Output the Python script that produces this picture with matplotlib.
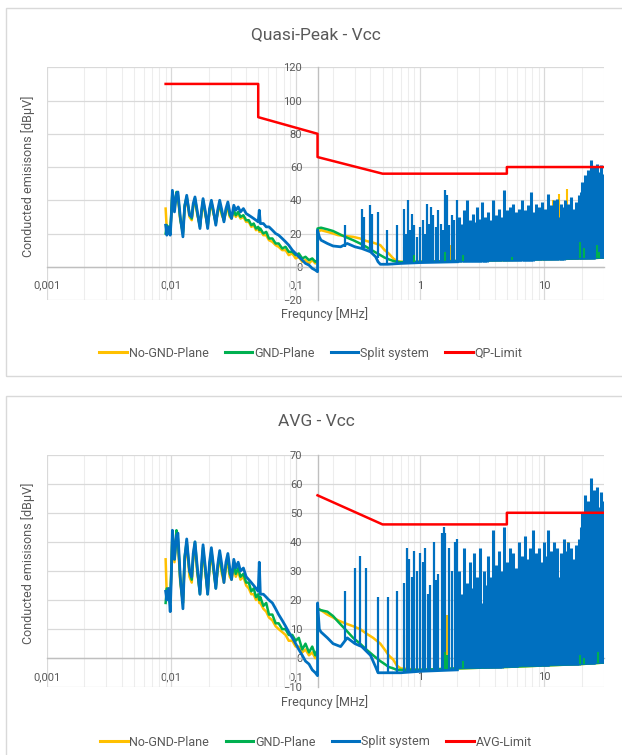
import numpy as np
import matplotlib.pyplot as plt
from matplotlib.patches import Rectangle

plt.rcParams['font.family'] = ['Roboto', 'DejaVu Sans']

C_NO = '#FFC000'
C_GND = '#00B050'
C_SPLIT = '#0070C0'
C_LIM = '#FF0000'
TXT = '#595959'

# ---------- shared frequency lists (MHz) ----------
lf_f = [0.0090, 0.0092, 0.0095, 0.0098, 0.0100, 0.0102, 0.0106, 0.0110, 0.0113, 0.0118,
        0.0124, 0.0128, 0.0133, 0.0140, 0.0146, 0.0150, 0.0155, 0.0162, 0.0170, 0.0175,
        0.0180, 0.0188, 0.0196, 0.0203, 0.0210, 0.0218, 0.0228, 0.0236, 0.0245, 0.0255,
        0.0265, 0.0275, 0.0285, 0.0295, 0.0305, 0.0318, 0.0330, 0.0345, 0.0360, 0.0380,
        0.0400, 0.0420, 0.0440, 0.0460, 0.0480, 0.0500, 0.0510, 0.0520, 0.0550, 0.0580,
        0.0610, 0.0650, 0.0690, 0.0730, 0.0780, 0.0830, 0.0880, 0.0940, 0.1000, 0.1060,
        0.1130, 0.1200, 0.1280, 0.1360, 0.1440, 0.1500]
mhf_f = [0.15, 0.16, 0.18, 0.2, 0.22, 0.25, 0.29, 0.33, 0.37, 0.42, 0.48,
         0.52, 0.56, 0.61, 0.65, 0.7, 1, 2, 5, 10, 20, 30]
bm_f = [0.15, 0.1501, 0.155, 0.16, 0.18, 0.2, 0.23, 0.26, 0.3, 0.34, 0.4,
        0.44, 0.46, 0.48, 0.55, 0.7, 1, 2]

# ---------- Quasi-Peak ----------
qp_lim_f = [0.009, 0.05, 0.05, 0.15, 0.15, 0.5, 5, 5, 30]
qp_lim_db = [110, 110, 90, 80, 66, 56, 56, 60, 60]

qp_no_lf = [35, 22, 24, 21, 32, 44, 35, 43, 42, 28,
            21, 35, 41, 30, 28, 36, 40, 31, 25, 32,
            39, 31, 25, 33, 38, 32, 27, 32, 37, 31,
            28, 33, 35, 30, 29, 33, 30, 32, 29, 30,
            27, 27, 24, 25, 22, 23, 21, 22, 19, 19,
            16, 15, 13, 12, 10, 10, 7, 8, 5, 6,
            3, 4, 2, 4, 2, 3]
qp_gnd_lf = [20, 25, 23, 20, 33, 45, 36, 45, 43, 29,
             20, 37, 42, 32, 29, 37, 41, 32, 24, 33,
             40, 32, 24, 34, 39, 33, 26, 33, 38, 32,
             28, 34, 37, 31, 30, 34, 31, 33, 30, 31,
             28, 28, 25, 26, 23, 24, 22, 23, 20, 21,
             17, 17, 14, 14, 11, 12, 9, 9, 7, 8,
             5, 6, 4, 5, 3, 4]
qp_split_lf = [25, 19, 24, 19, 30, 46, 33, 44, 45, 30,
               18, 36, 43, 31, 30, 38, 42, 33, 23, 34,
               41, 33, 23, 35, 40, 34, 25, 34, 40, 34,
               27, 35, 39, 33, 29, 37, 34, 36, 33, 35,
               32, 31, 30, 29, 28, 27, 34, 26, 26, 24,
               24, 22, 20, 19, 17, 15, 13, 10, 8, 6,
               4, 2, 1, -1, -2, -3]
qp_no_mhf = [21, 22, 21, 20, 19, 18.5, 18, 17, 15.5, 14.5, 13,
             10, 8, 5, 3.5, 3, 3, 3.5, 4, 4.5, 5, 5.5]
qp_gnd_mhf = [23, 23.5, 22.5, 21.5, 20, 18, 16, 14, 12, 9.5, 7,
              5.5, 4.5, 3.5, 3, 2.8, 3, 3.5, 4, 4.5, 5, 5.5]
qp_split_bm = [-3, 22, 18, 16, 14, 12.5, 12, 14, 12, 11, 9,
               6, 3, 1.5, 1.5, 2, 2.5, 3]

qp_split_spk_f = [0.25, 0.34, 0.355, 0.40, 0.415, 0.457, 0.54, 0.65, 0.745, 0.77,
                  0.795, 0.83, 0.86, 0.9, 0.94, 1.0, 1.05, 1.1, 1.13, 1.18,
                  1.22, 1.28, 1.34, 1.4, 1.47, 1.52, 1.6, 1.65, 1.72, 1.8,
                  1.88, 1.97]
qp_split_spk_lo = [12, 11, 11, 9, 9, 5, 1.5, 1.8, 2, 2,
                   2, 2.2, 2.2, 2.3, 2.4, 2.5, 2.5, 2.6, 2.6, 2.7,
                   2.7, 2.8, 2.8, 2.8, 2.9, 2.9, 2.9, 3, 3, 3,
                   3, 3]
qp_split_spk_hi = [25, 35, 30, 37, 32, 33, 22, 25, 35, 20,
                   40, 22, 32, 25, 18, 24, 28, 20, 38, 26,
                   36, 31, 24, 34, 26, 22, 46, 43, 25, 31,
                   28, 40]
# dense sweep 2..30 MHz, peak of each sample
qp_split_dense = [22, 30, 20, 26, 34, 21, 40, 24, 28, 23,
                  32, 22, 27, 36, 24, 29, 39, 23, 30, 26,
                  33, 25, 28, 40, 26, 31, 24, 35, 27, 30,
                  46, 28, 34, 26, 36, 29, 38, 27, 33, 30,
                  35, 28, 40, 30, 34, 27, 37, 31, 45, 29,
                  33, 38, 30, 36, 28, 39, 32, 35, 30, 44,
                  31, 37, 29, 40, 33, 41, 30, 38, 34, 36,
                  40, 32, 38, 30, 42, 35, 33, 39, 36, 43,
                  45, 51, 48, 55, 50, 58, 52, 64, 55, 60,
                  53, 62, 57, 61, 52, 56]
qp_split_floor = [3, 3.1, 3.3, 3.5, 3.7, 3.9, 4.1, 4.4, 4.7, 5]

qp_no_spk_f = [0.75, 0.78, 0.8, 0.95, 1.05, 1.2, 1.6, 1.65, 1.75, 2.0, 11.7, 13.1, 15.2, 16.5, 19.0]
qp_no_spk_lo = [3, 3, 3, 3, 3, 3, 3.3, 3.3, 3.3, 3.5, 4.5, 4.6, 4.7, 4.8, 5]
qp_no_spk_hi = [12, 16, 14, 9, 10, 12, 22, 20, 13, 11, 40, 44, 47, 40, 42]
qp_gnd_spk_f = [0.9, 1.6, 2.2, 5.5, 19.5, 21, 26.5, 27.5]
qp_gnd_spk_lo = [3, 3.3, 3.5, 4, 5, 5, 5.4, 5.4]
qp_gnd_spk_hi = [7, 9, 7, 6, 15, 11, 13, 9]

# ---------- Average ----------
avg_lim_f = [0.15, 0.5, 5, 5, 30]
avg_lim_db = [56, 46, 46, 50, 50]

avg_no_lf = [34, 21, 23, 19, 30, 42, 33, 41, 40, 26,
             19, 33, 39, 28, 26, 34, 38, 29, 23, 30,
             37, 29, 23, 31, 36, 30, 25, 30, 35, 29,
             26, 31, 33, 28, 27, 31, 28, 30, 27, 28,
             25, 24, 22, 22, 20, 21, 19, 19, 17, 16,
             14, 13, 11, 10, 9, 8, 6, 6, 4, 4,
             2, 3, 1, 2, 0, 1]
avg_gnd_lf = [19, 24, 22, 19, 31, 43, 34, 44, 41, 27,
              19, 35, 40, 30, 27, 35, 40, 30, 22, 31,
              38, 30, 22, 32, 37, 31, 24, 31, 36, 30,
              27, 32, 35, 29, 28, 32, 29, 31, 28, 29,
              26, 26, 23, 24, 21, 22, 20, 21, 18, 19,
              15, 15, 12, 12, 10, 10, 8, 8, 6, 7,
              3, 5, 2, 4, 1, 3]
avg_split_lf = [23, 20, 24, 16, 28, 44, 34, 42, 43, 28,
                17, 34, 41, 30, 28, 36, 40, 31, 22, 32,
                39, 31, 22, 33, 38, 32, 24, 32, 37, 32,
                26, 33, 36, 31, 27, 34, 31, 33, 30, 31,
                28, 27, 26, 25, 24, 23, 33, 22, 22, 21,
                20, 19, 17, 15, 13, 11, 9, 7, 5, 3,
                1, -1, -2, -4, -5, -6]
avg_no_mhf = [17, 16.5, 15, 14, 13, 12, 11, 10, 8.5, 7, 5,
              3, 1, -0.5, -2.5, -3.5, -4, -3.5, -3, -2.5, -2, -1.5]
avg_gnd_mhf = [17, 16.5, 16, 14.5, 12.5, 10, 7, 5, 3, 1, -1,
               -2, -3, -3.5, -4, -4, -4, -3.5, -3, -2.5, -2, -1.5]
avg_split_bm = [-6, 19, 10, 9, 7, 5, 4, 7, 5, 4, 1,
                -3, -5, -5, -5, -5, -4.5, -4]

avg_split_spk_f = [0.25, 0.30, 0.33, 0.37, 0.46, 0.55, 0.65, 0.75, 0.78, 0.82,
                   0.86, 0.9, 0.95, 1.0, 1.05, 1.1, 1.15, 1.2, 1.3, 1.35,
                   1.4, 1.5, 1.55, 1.6, 1.7, 1.8, 1.9, 1.97]
avg_split_spk_lo = [6, 5, 4, 3, -5, -5, -5, -5, -5, -5,
                    -5, -5, -4.8, -4.7, -4.6, -4.5, -4.5, -4.4, -4.3, -4.3,
                    -4.2, -4.2, -4.1, -4.1, -4, -4, -4, -4]
avg_split_spk_hi = [23, 31, 35, 31, 21, 21, 23, 26, 38, 34,
                    28, 37, 30, 36, 33, 38, 22, 25, 40, 27,
                    29, 43, 45, 43, 38, 30, 40, 41]
avg_split_dense = [18, 30, 15, 22, 38, 16, 26, 20, 33, 17,
                   24, 36, 18, 28, 22, 38, 19, 30, 21, 25,
                   35, 20, 28, 44, 22, 32, 24, 37, 21, 30,
                   45, 26, 33, 23, 38, 28, 36, 25, 31, 29,
                   40, 27, 35, 30, 42, 26, 34, 38, 29, 44,
                   31, 36, 28, 38, 27, 33, 40, 30, 35, 44,
                   29, 37, 31, 40, 34, 38, 28, 36, 33, 41,
                   37, 31, 40, 30, 38, 34, 32, 39, 35, 41,
                   45, 50, 47, 56, 49, 54, 51, 62, 53, 58,
                   50, 59, 52, 57, 49, 54]
avg_split_floor = [-3.5, -3.4, -3.2, -3, -2.8, -2.6, -2.4, -2.2, -2, -1.8]

avg_no_spk_f = [0.75, 0.8, 1.05, 1.6, 1.65, 15.5, 19.0]
avg_no_spk_lo = [-4, -4, -4, -3.8, -3.8, -2.2, -2]
avg_no_spk_hi = [8, 12, 6, 20, 15, 40, 35]
avg_gnd_spk_f = [1.6, 1.65, 2.2, 19.5, 21, 27]
avg_gnd_spk_lo = [-3.8, -3.8, -3.5, -2, -2, -1.6]
avg_gnd_spk_hi = [2, 1, -1, 1, 0, 2]


def draw_panel(ax, ylim, ystep, lim_f, lim_db,
               no_lf, gnd_lf, split_lf, no_mhf, gnd_mhf, split_bm,
               s_f, s_lo, s_hi, dense, floor,
               n_f, n_lo, n_hi, g_f, g_lo, g_hi):
    ax.set_xscale('log')
    ax.set_xlim(0.001, 30)
    ax.set_ylim(*ylim)

    h_no, = ax.plot(lf_f + mhf_f, no_lf + no_mhf, color=C_NO, lw=1.8, zorder=3)
    ax.vlines(n_f, n_lo, n_hi, color=C_NO, lw=1.5, zorder=3)
    h_gnd, = ax.plot(lf_f + mhf_f, gnd_lf + gnd_mhf, color=C_GND, lw=1.8, zorder=4)

    h_sp, = ax.plot(lf_f + bm_f, split_lf + split_bm, color=C_SPLIT, lw=2.0, zorder=5)
    ax.vlines(s_f, s_lo, s_hi, color=C_SPLIT, lw=1.6, zorder=5)
    d_f = np.geomspace(2.0, 30.0, len(dense))
    d_lo = np.repeat(floor, 10)[:len(dense)]
    ax.vlines(d_f, d_lo, dense, color=C_SPLIT, lw=2.2, zorder=5)
    # a few GND-plane peaks poke through the blue floor
    ax.vlines(g_f, g_lo, g_hi, color=C_GND, lw=1.5, zorder=5.5)

    h_lim, = ax.plot(lim_f, lim_db, color=C_LIM, lw=1.8, zorder=6)

    ax.set_yticks(np.arange(ylim[0], ylim[1] + 1, ystep))
    ax.set_xticks([0.001, 0.01, 0.1, 1, 10])
    ax.set_xticklabels(['0,001', '0,01', '0,1', '1', '10'])
    minor = [m * 10.0 ** e for e in range(-3, 2) for m in range(2, 10) if m * 10.0 ** e <= 30]
    ax.set_xticks(minor, minor=True)
    ax.xaxis.set_minor_formatter(plt.NullFormatter())

    ax.grid(which='major', color='#d9d9d9', lw=0.9, zorder=0)
    ax.grid(which='minor', axis='x', color='#ededed', lw=0.8, zorder=0)
    ax.set_axisbelow(True)

    for s in ('top', 'right'):
        ax.spines[s].set_visible(False)
    ax.spines['left'].set_position(('data', 0.15))
    ax.spines['bottom'].set_position(('data', 0))
    for s in ('left', 'bottom'):
        ax.spines[s].set_color('#bfbfbf')
        ax.spines[s].set_linewidth(1.0)
        ax.spines[s].set_zorder(2)
    ax.tick_params(which='both', length=0, labelsize=8, labelcolor=TXT)
    ax.tick_params(axis='y', pad=11)
    ax.tick_params(axis='x', pad=10)
    return [h_no, h_gnd, h_sp, h_lim]


W, H = 622, 755
fig = plt.figure(figsize=(W / 100, H / 100), dpi=100)

def fx(px):
    return px / W

def fy(py):
    return 1 - py / H

# panel frames
fig.add_artist(Rectangle((fx(6), fy(376)), fx(640), (376 - 8) / H, transform=fig.transFigure,
                         fill=False, edgecolor='#d9d9d9', lw=1.0))
fig.add_artist(Rectangle((fx(6), fy(770)), fx(640), (770 - 396) / H, transform=fig.transFigure,
                         fill=False, edgecolor='#d9d9d9', lw=1.0))

ax1 = fig.add_axes([fx(47), fy(300), fx(603.6 - 47), (300 - 67.3) / H])
hs1 = draw_panel(ax1, (-20, 120), 20, qp_lim_f, qp_lim_db,
                 qp_no_lf, qp_gnd_lf, qp_split_lf, qp_no_mhf, qp_gnd_mhf, qp_split_bm,
                 qp_split_spk_f, qp_split_spk_lo, qp_split_spk_hi, qp_split_dense, qp_split_floor,
                 qp_no_spk_f, qp_no_spk_lo, qp_no_spk_hi, qp_gnd_spk_f, qp_gnd_spk_lo, qp_gnd_spk_hi)

ax2 = fig.add_axes([fx(47), fy(687.3), fx(603.6 - 47), (687.3 - 454.6) / H])
hs2 = draw_panel(ax2, (-10, 70), 10, avg_lim_f, avg_lim_db,
                 avg_no_lf, avg_gnd_lf, avg_split_lf, avg_no_mhf, avg_gnd_mhf, avg_split_bm,
                 avg_split_spk_f, avg_split_spk_lo, avg_split_spk_hi, avg_split_dense, avg_split_floor,
                 avg_no_spk_f, avg_no_spk_lo, avg_no_spk_hi, avg_gnd_spk_f, avg_gnd_spk_lo, avg_gnd_spk_hi)

for title, ty, ly, yl, hs, lname, lx, legy in [
        ('Quasi-Peak - Vcc', 35, 314, 176, hs1, 'QP-Limit', 311, 353),
        ('AVG - Vcc', 422, 702, 563, hs2, 'AVG-Limit', 316, 742)]:
    fig.text(fx(316), fy(ty), title, ha='center', va='center', fontsize=12.5, color=TXT)
    fig.text(fx(325), fy(ly), 'Frequncy [MHz]', ha='center', va='center', fontsize=9, color=TXT)
    fig.text(fx(28), fy(yl), 'Conducted emisisons [dBµV]', ha='center', va='center',
             rotation=90, fontsize=9, color=TXT)
    leg = fig.legend(hs, ['No-GND-Plane', 'GND-Plane', 'Split system', lname],
                     loc='center', bbox_to_anchor=(fx(lx), fy(legy)),
                     ncol=4, frameon=False, fontsize=9, handlelength=2.2, handletextpad=0.15,
                     columnspacing=1.3, labelcolor=TXT)
    for ln in leg.get_lines():
        ln.set_linewidth(2.2)

fig.savefig('out.png', dpi=100)
